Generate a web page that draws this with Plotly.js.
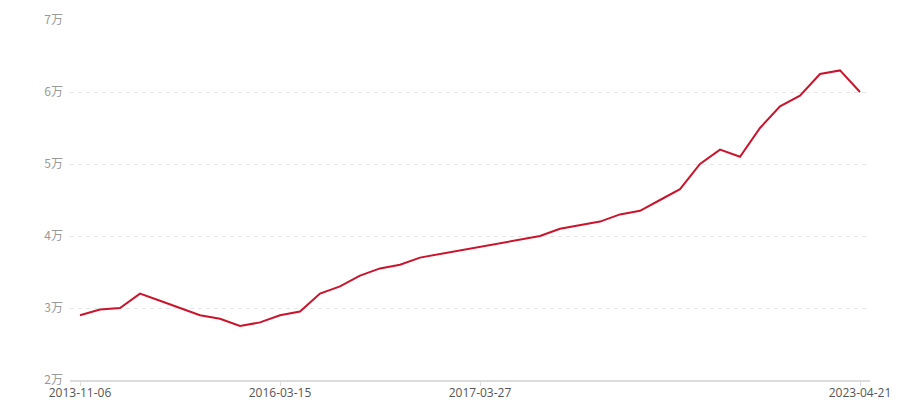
<!DOCTYPE html>
<html>
<head>
<meta charset="utf-8">
<script src="https://cdn.plot.ly/plotly-3.0.1.min.js"></script>
<style>html,body{margin:0;padding:0;background:#fff;}#chart{width:900px;height:400px;}</style>
</head>
<body>
<div id="chart"></div>
<script>
// Values (yuan), one per period
const prices = [29000, 29800, 30000, 32000, 31000, 30000, 29000, 28500, 27500, 28000,
                29000, 29500, 32000, 33000, 34500, 35500, 36000, 37000, 37500, 38000,
                38500, 39000, 39500, 40000, 41000, 41500, 42000, 43000, 43500, 45000,
                46500, 50000, 52000, 51000, 55000, 58000, 59500, 62500, 63000, 60000];
// Period index of each point
const periods = prices.map((_, i) => i);
// Labelled periods on the x axis
const xTickIdx = [0, 10, 20, 39];
const xTickLabels = ['2013-11-06', '2016-03-15', '2017-03-27', '2023-04-21'];
// Y axis ticks
const yTickVals = [20000, 30000, 40000, 50000, 60000, 70000];
const yTickLabels = ['2万', '3万', '4万', '5万', '6万', '7万'];

const font = '"Noto Sans CJK SC", "Noto Sans", sans-serif';

Plotly.newPlot('chart', [{
  x: periods,
  y: prices,
  type: 'scatter',
  mode: 'lines',
  line: {color: '#c8152d', width: 2},
  hoverinfo: 'y'
}], {
  width: 900, height: 400,
  margin: {l: 70, r: 30, t: 20, b: 20},
  paper_bgcolor: '#fff', plot_bgcolor: '#fff',
  showlegend: false,
  font: {family: font, size: 12, color: '#999'},
  xaxis: {
    range: [-0.5, 39.5],
    tickmode: 'array', tickvals: xTickIdx, ticktext: xTickLabels,
    showgrid: false, zeroline: false,
    showline: true, linecolor: '#dcdcdc', linewidth: 2,
    ticks: 'outside', ticklen: 4, tickcolor: '#dcdcdc', tickwidth: 1,
    ticklabelstandoff: -3,
    tickfont: {family: '"Open Sans", "Noto Sans", sans-serif', size: 12, color: '#555'},
    automargin: false, fixedrange: true
  },
  yaxis: {
    range: [20000, 70000],
    tickmode: 'array', tickvals: yTickVals, ticktext: yTickLabels,
    showgrid: true, gridcolor: '#e6e6e6', griddash: '4px,4px', gridwidth: 1,
    zeroline: false, showline: false, ticks: '',
    ticklabelstandoff: 6,
    tickfont: {family: font, size: 12, color: '#999'},
    automargin: false, fixedrange: true
  }
}, {displayModeBar: false, staticPlot: true});
</script>
</body>
</html>
